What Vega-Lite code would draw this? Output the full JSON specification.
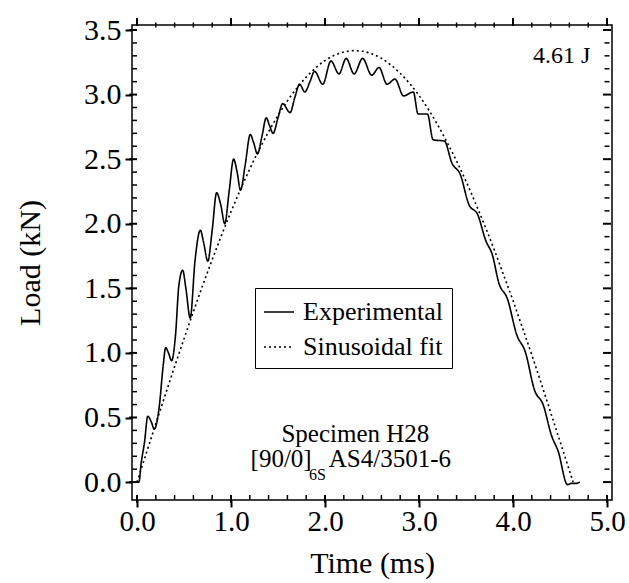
{
  "$schema": "https://vega.github.io/schema/vega-lite/v6.json",
  "width": 480,
  "height": 475,
  "autosize": {"type": "none"},
  "padding": {"left": 132, "top": 25, "right": 17, "bottom": 83},
  "background": "white",
  "config": {
    "font": "Liberation Serif",
    "view": {"stroke": "black", "strokeWidth": 1.5},
    "axis": {"grid": false, "labelColor": "black", "titleColor": "black", "labelFont": "Liberation Serif", "titleFont": "Liberation Serif", "titleFontWeight": "normal", "labelFlush": false, "labelOverlap": false},
    "tick": {"opacity": 1, "color": "black"},
    "bar": {"opacity": 1, "color": "black"}
  },
  "datasets": {
    "xmajor": [{"v": 0}, {"v": 1}, {"v": 2}, {"v": 3}, {"v": 4}, {"v": 5}],
    "xminor": [{"v": 0.2}, {"v": 0.4}, {"v": 0.6}, {"v": 0.8}, {"v": 1.2}, {"v": 1.4}, {"v": 1.6}, {"v": 1.8}, {"v": 2.2}, {"v": 2.4}, {"v": 2.6}, {"v": 2.8}, {"v": 3.2}, {"v": 3.4}, {"v": 3.6}, {"v": 3.8}, {"v": 4.2}, {"v": 4.4}, {"v": 4.6}, {"v": 4.8}],
    "ymajor": [{"v": 0}, {"v": 0.5}, {"v": 1}, {"v": 1.5}, {"v": 2}, {"v": 2.5}, {"v": 3}, {"v": 3.5}],
    "yminor": [{"v": 0.1}, {"v": 0.2}, {"v": 0.3}, {"v": 0.4}, {"v": 0.6}, {"v": 0.7}, {"v": 0.8}, {"v": 0.9}, {"v": 1.1}, {"v": 1.2}, {"v": 1.3}, {"v": 1.4}, {"v": 1.6}, {"v": 1.7}, {"v": 1.8}, {"v": 1.9}, {"v": 2.1}, {"v": 2.2}, {"v": 2.3}, {"v": 2.4}, {"v": 2.6}, {"v": 2.7}, {"v": 2.8}, {"v": 2.9}, {"v": 3.1}, {"v": 3.2}, {"v": 3.3}, {"v": 3.4}]
  },
  "resolve": {"axis": {"x": "independent", "y": "independent"}, "scale": {"x": "shared", "y": "shared"}},
  "layer": [
    {
      "data": {"values": [
        {"series": "Experimental", "t": 0.00, "L": 0.00},
        {"series": "Experimental", "t": 0.02, "L": 0.00},
        {"series": "Experimental", "t": 0.045, "L": 0.15},
        {"series": "Experimental", "t": 0.08, "L": 0.31},
        {"series": "Experimental", "t": 0.115, "L": 0.51},
        {"series": "Experimental", "t": 0.15, "L": 0.47},
        {"series": "Experimental", "t": 0.184, "L": 0.41},
        {"series": "Experimental", "t": 0.236, "L": 0.58},
        {"series": "Experimental", "t": 0.277, "L": 0.89},
        {"series": "Experimental", "t": 0.305, "L": 1.04},
        {"series": "Experimental", "t": 0.335, "L": 1.00},
        {"series": "Experimental", "t": 0.368, "L": 0.94},
        {"series": "Experimental", "t": 0.41, "L": 1.14},
        {"series": "Experimental", "t": 0.445, "L": 1.52},
        {"series": "Experimental", "t": 0.486, "L": 1.64},
        {"series": "Experimental", "t": 0.52, "L": 1.50},
        {"series": "Experimental", "t": 0.566, "L": 1.27},
        {"series": "Experimental", "t": 0.618, "L": 1.72},
        {"series": "Experimental", "t": 0.674, "L": 1.95},
        {"series": "Experimental", "t": 0.71, "L": 1.85},
        {"series": "Experimental", "t": 0.753, "L": 1.71},
        {"series": "Experimental", "t": 0.80, "L": 1.95},
        {"series": "Experimental", "t": 0.847, "L": 2.24},
        {"series": "Experimental", "t": 0.89, "L": 2.15},
        {"series": "Experimental", "t": 0.934, "L": 2.00},
        {"series": "Experimental", "t": 0.98, "L": 2.25},
        {"series": "Experimental", "t": 1.028, "L": 2.50},
        {"series": "Experimental", "t": 1.065, "L": 2.40},
        {"series": "Experimental", "t": 1.101, "L": 2.26},
        {"series": "Experimental", "t": 1.15, "L": 2.45},
        {"series": "Experimental", "t": 1.205, "L": 2.69},
        {"series": "Experimental", "t": 1.24, "L": 2.63},
        {"series": "Experimental", "t": 1.281, "L": 2.54},
        {"series": "Experimental", "t": 1.33, "L": 2.68},
        {"series": "Experimental", "t": 1.375, "L": 2.82},
        {"series": "Experimental", "t": 1.41, "L": 2.76},
        {"series": "Experimental", "t": 1.448, "L": 2.70},
        {"series": "Experimental", "t": 1.50, "L": 2.82},
        {"series": "Experimental", "t": 1.55, "L": 2.93},
        {"series": "Experimental", "t": 1.628, "L": 2.86},
        {"series": "Experimental", "t": 1.68, "L": 2.98},
        {"series": "Experimental", "t": 1.73, "L": 3.08},
        {"series": "Experimental", "t": 1.785, "L": 3.02},
        {"series": "Experimental", "t": 1.84, "L": 3.10},
        {"series": "Experimental", "t": 1.889, "L": 3.18},
        {"series": "Experimental", "t": 1.976, "L": 3.08},
        {"series": "Experimental", "t": 2.063, "L": 3.26},
        {"series": "Experimental", "t": 2.149, "L": 3.16},
        {"series": "Experimental", "t": 2.225, "L": 3.28},
        {"series": "Experimental", "t": 2.31, "L": 3.16},
        {"series": "Experimental", "t": 2.40, "L": 3.28},
        {"series": "Experimental", "t": 2.497, "L": 3.15},
        {"series": "Experimental", "t": 2.575, "L": 3.21},
        {"series": "Experimental", "t": 2.66, "L": 3.08},
        {"series": "Experimental", "t": 2.745, "L": 3.12},
        {"series": "Experimental", "t": 2.835, "L": 2.99},
        {"series": "Experimental", "t": 2.94, "L": 3.02},
        {"series": "Experimental", "t": 2.99, "L": 2.85},
        {"series": "Experimental", "t": 3.09, "L": 2.85},
        {"series": "Experimental", "t": 3.15, "L": 2.65},
        {"series": "Experimental", "t": 3.27, "L": 2.64},
        {"series": "Experimental", "t": 3.35, "L": 2.47},
        {"series": "Experimental", "t": 3.44, "L": 2.38},
        {"series": "Experimental", "t": 3.53, "L": 2.15},
        {"series": "Experimental", "t": 3.625, "L": 2.07},
        {"series": "Experimental", "t": 3.71, "L": 1.87},
        {"series": "Experimental", "t": 3.78, "L": 1.76},
        {"series": "Experimental", "t": 3.85, "L": 1.54},
        {"series": "Experimental", "t": 3.94, "L": 1.42},
        {"series": "Experimental", "t": 4.04, "L": 1.14},
        {"series": "Experimental", "t": 4.13, "L": 1.01},
        {"series": "Experimental", "t": 4.23, "L": 0.71},
        {"series": "Experimental", "t": 4.32, "L": 0.60},
        {"series": "Experimental", "t": 4.41, "L": 0.36},
        {"series": "Experimental", "t": 4.48, "L": 0.24},
        {"series": "Experimental", "t": 4.58, "L": -0.02},
        {"series": "Experimental", "t": 4.62, "L": -0.01},
        {"series": "Experimental", "t": 4.67, "L": -0.01},
        {"series": "Experimental", "t": 4.71, "L": 0.00},
        {"series": "Sinusoidal fit", "t": 0.0, "L": 0.0},
        {"series": "Sinusoidal fit", "t": 0.1, "L": 0.226},
        {"series": "Sinusoidal fit", "t": 0.2, "L": 0.451},
        {"series": "Sinusoidal fit", "t": 0.3, "L": 0.674},
        {"series": "Sinusoidal fit", "t": 0.4, "L": 0.894},
        {"series": "Sinusoidal fit", "t": 0.5, "L": 1.109},
        {"series": "Sinusoidal fit", "t": 0.6, "L": 1.320},
        {"series": "Sinusoidal fit", "t": 0.7, "L": 1.525},
        {"series": "Sinusoidal fit", "t": 0.8, "L": 1.722},
        {"series": "Sinusoidal fit", "t": 0.9, "L": 1.912},
        {"series": "Sinusoidal fit", "t": 1.0, "L": 2.093},
        {"series": "Sinusoidal fit", "t": 1.1, "L": 2.264},
        {"series": "Sinusoidal fit", "t": 1.2, "L": 2.425},
        {"series": "Sinusoidal fit", "t": 1.3, "L": 2.574},
        {"series": "Sinusoidal fit", "t": 1.4, "L": 2.712},
        {"series": "Sinusoidal fit", "t": 1.5, "L": 2.838},
        {"series": "Sinusoidal fit", "t": 1.6, "L": 2.951},
        {"series": "Sinusoidal fit", "t": 1.7, "L": 3.050},
        {"series": "Sinusoidal fit", "t": 1.8, "L": 3.135},
        {"series": "Sinusoidal fit", "t": 1.9, "L": 3.206},
        {"series": "Sinusoidal fit", "t": 2.0, "L": 3.263},
        {"series": "Sinusoidal fit", "t": 2.1, "L": 3.304},
        {"series": "Sinusoidal fit", "t": 2.2, "L": 3.329},
        {"series": "Sinusoidal fit", "t": 2.3, "L": 3.340},
        {"series": "Sinusoidal fit", "t": 2.4, "L": 3.335},
        {"series": "Sinusoidal fit", "t": 2.5, "L": 3.315},
        {"series": "Sinusoidal fit", "t": 2.6, "L": 3.281},
        {"series": "Sinusoidal fit", "t": 2.7, "L": 3.229},
        {"series": "Sinusoidal fit", "t": 2.8, "L": 3.165},
        {"series": "Sinusoidal fit", "t": 2.9, "L": 3.086},
        {"series": "Sinusoidal fit", "t": 3.0, "L": 2.993},
        {"series": "Sinusoidal fit", "t": 3.1, "L": 2.885},
        {"series": "Sinusoidal fit", "t": 3.2, "L": 2.763},
        {"series": "Sinusoidal fit", "t": 3.3, "L": 2.629},
        {"series": "Sinusoidal fit", "t": 3.4, "L": 2.485},
        {"series": "Sinusoidal fit", "t": 3.5, "L": 2.329},
        {"series": "Sinusoidal fit", "t": 3.6, "L": 2.161},
        {"series": "Sinusoidal fit", "t": 3.7, "L": 1.985},
        {"series": "Sinusoidal fit", "t": 3.8, "L": 1.800},
        {"series": "Sinusoidal fit", "t": 3.9, "L": 1.603},
        {"series": "Sinusoidal fit", "t": 4.0, "L": 1.405},
        {"series": "Sinusoidal fit", "t": 4.1, "L": 1.196},
        {"series": "Sinusoidal fit", "t": 4.2, "L": 0.985},
        {"series": "Sinusoidal fit", "t": 4.3, "L": 0.765},
        {"series": "Sinusoidal fit", "t": 4.4, "L": 0.541},
        {"series": "Sinusoidal fit", "t": 4.5, "L": 0.316},
        {"series": "Sinusoidal fit", "t": 4.6, "L": 0.090},
        {"series": "Sinusoidal fit", "t": 4.64, "L": 0.0}
      ]},
      "mark": {"type": "line", "interpolate": "monotone", "strokeWidth": 1.6, "color": "black"},
      "encoding": {
        "x": {"field": "t", "type": "quantitative", "scale": {"domain": [0, 5], "nice": false, "zero": false},
          "axis": {"orient": "bottom", "values": [0, 1, 2, 3, 4, 5], "format": ".1f", "domain": false, "ticks": true, "tickColor": "black", "tickWidth": 2, "tickSize": 7, "labelFontSize": 29, "labelPadding": 0, "title": "Time (ms)", "titleFontSize": 30, "titlePadding": 12}},
        "y": {"field": "L", "type": "quantitative", "scale": {"domain": [-0.1, 3.5], "nice": false, "zero": false},
          "axis": {"orient": "left", "values": [0, 0.5, 1, 1.5, 2, 2.5, 3, 3.5], "format": ".1f", "domain": false, "ticks": true, "tickColor": "black", "tickWidth": 2, "tickSize": 7, "labelFontSize": 30, "labelPadding": 4, "title": "Load (kN)", "titleFontSize": 30, "titlePadding": 38}},
        "strokeDash": {"field": "series", "type": "nominal",
          "scale": {"domain": ["Experimental", "Sinusoidal fit"], "range": [[1, 0], [2, 3]]},
          "legend": {"title": null, "orient": "none", "legendX": 123, "legendY": 263, "strokeColor": "black", "fillColor": "white", "padding": 8, "rowPadding": 6, "labelOffset": 8, "symbolType": "stroke", "symbolSize": 900, "symbolStrokeWidth": 1.6, "symbolStrokeColor": "black", "labelFont": "Liberation Serif", "labelFontSize": 26, "labelColor": "black", "labelLimit": 300}}
      }
    },
    {
      "data": {"name": "xmajor"},
      "mark": {"type": "bar", "orient": "vertical", "size": 2, "color": "black", "opacity": 1},
      "encoding": {
        "x": {"field": "v", "type": "quantitative", "scale": {"domain": [0, 5], "nice": false, "zero": false}, "axis": null},
        "y": {"datum": -0.1, "type": "quantitative", "scale": {"domain": [-0.1, 3.5], "nice": false, "zero": false}, "axis": null},
        "y2": {"datum": -0.16}
      }
    },
    {
      "data": {"name": "xmajor"},
      "mark": {"type": "tick", "orient": "vertical", "size": 8, "thickness": 2, "color": "black", "opacity": 1, "yOffset": -8},
      "encoding": {
        "x": {"field": "v", "type": "quantitative", "scale": {"domain": [0, 5], "nice": false, "zero": false}, "axis": null},
        "y": {"datum": 3.5, "type": "quantitative", "scale": {"domain": [-0.1, 3.5], "nice": false, "zero": false}, "axis": null}
      }
    },
    {
      "data": {"name": "xminor"},
      "mark": {"type": "bar", "orient": "vertical", "size": 1.5, "color": "black", "opacity": 1},
      "encoding": {
        "x": {"field": "v", "type": "quantitative", "scale": {"domain": [0, 5], "nice": false, "zero": false}, "axis": null},
        "y": {"datum": -0.1, "type": "quantitative", "scale": {"domain": [-0.1, 3.5], "nice": false, "zero": false}, "axis": null},
        "y2": {"datum": -0.138}
      }
    },
    {
      "data": {"name": "xminor"},
      "mark": {"type": "tick", "orient": "vertical", "size": 5, "thickness": 1.5, "color": "black", "opacity": 1, "yOffset": -5},
      "encoding": {
        "x": {"field": "v", "type": "quantitative", "scale": {"domain": [0, 5], "nice": false, "zero": false}, "axis": null},
        "y": {"datum": 3.5, "type": "quantitative", "scale": {"domain": [-0.1, 3.5], "nice": false, "zero": false}, "axis": null}
      }
    },
    {
      "data": {"name": "ymajor"},
      "mark": {"type": "bar", "orient": "horizontal", "size": 2, "color": "black", "opacity": 1},
      "encoding": {
        "y": {"field": "v", "type": "quantitative", "scale": {"domain": [-0.1, 3.5], "nice": false, "zero": false}, "axis": null},
        "x": {"datum": -0.083, "type": "quantitative", "scale": {"domain": [0, 5], "nice": false, "zero": false}, "axis": null},
        "x2": {"datum": 0}
      }
    },
    {
      "data": {"name": "ymajor"},
      "mark": {"type": "tick", "orient": "horizontal", "size": 8, "thickness": 2, "color": "black", "opacity": 1},
      "encoding": {
        "y": {"field": "v", "type": "quantitative", "scale": {"domain": [-0.1, 3.5], "nice": false, "zero": false}, "axis": null},
        "x": {"datum": 5, "type": "quantitative", "scale": {"domain": [0, 5], "nice": false, "zero": false}, "axis": null}
      }
    },
    {
      "data": {"name": "yminor"},
      "mark": {"type": "bar", "orient": "horizontal", "size": 1.5, "color": "black", "opacity": 1},
      "encoding": {
        "y": {"field": "v", "type": "quantitative", "scale": {"domain": [-0.1, 3.5], "nice": false, "zero": false}, "axis": null},
        "x": {"datum": -0.052, "type": "quantitative", "scale": {"domain": [0, 5], "nice": false, "zero": false}, "axis": null},
        "x2": {"datum": 0}
      }
    },
    {
      "data": {"name": "yminor"},
      "mark": {"type": "tick", "orient": "horizontal", "size": 5, "thickness": 1.5, "color": "black", "opacity": 1},
      "encoding": {
        "y": {"field": "v", "type": "quantitative", "scale": {"domain": [-0.1, 3.5], "nice": false, "zero": false}, "axis": null},
        "x": {"datum": 5, "type": "quantitative", "scale": {"domain": [0, 5], "nice": false, "zero": false}, "axis": null}
      }
    },
    {
      "data": {"values": [{"t": 4.823, "L": 3.295, "label": "4.61 J"}]},
      "mark": {"type": "text", "align": "right", "baseline": "middle", "fontSize": 24, "color": "black"},
      "encoding": {
        "x": {"field": "t", "type": "quantitative", "scale": {"domain": [0, 5], "nice": false, "zero": false}, "axis": null},
        "y": {"field": "L", "type": "quantitative", "scale": {"domain": [-0.1, 3.5], "nice": false, "zero": false}, "axis": null},
        "text": {"field": "label"}
      }
    },
    {
      "data": {"values": [{"t": 2.323, "L": 0.371, "label": "Specimen H28"}]},
      "mark": {"type": "text", "align": "center", "baseline": "middle", "fontSize": 25, "color": "black"},
      "encoding": {
        "x": {"field": "t", "type": "quantitative", "scale": {"domain": [0, 5], "nice": false, "zero": false}, "axis": null},
        "y": {"field": "L", "type": "quantitative", "scale": {"domain": [-0.1, 3.5], "nice": false, "zero": false}, "axis": null},
        "text": {"field": "label"}
      }
    },
    {
      "data": {"values": [{"t": 1.208, "L": 0.182, "label": "[90/0]"}]},
      "mark": {"type": "text", "align": "left", "baseline": "middle", "fontSize": 25, "color": "black"},
      "encoding": {
        "x": {"field": "t", "type": "quantitative", "scale": {"domain": [0, 5], "nice": false, "zero": false}, "axis": null},
        "y": {"field": "L", "type": "quantitative", "scale": {"domain": [-0.1, 3.5], "nice": false, "zero": false}, "axis": null},
        "text": {"field": "label"}
      }
    },
    {
      "data": {"values": [{"t": 1.83, "L": 0.053, "label": "6S"}]},
      "mark": {"type": "text", "align": "left", "baseline": "middle", "fontSize": 16, "color": "black"},
      "encoding": {
        "x": {"field": "t", "type": "quantitative", "scale": {"domain": [0, 5], "nice": false, "zero": false}, "axis": null},
        "y": {"field": "L", "type": "quantitative", "scale": {"domain": [-0.1, 3.5], "nice": false, "zero": false}, "axis": null},
        "text": {"field": "label"}
      }
    },
    {
      "data": {"values": [{"t": 3.34, "L": 0.182, "label": "AS4/3501-6"}]},
      "mark": {"type": "text", "align": "right", "baseline": "middle", "fontSize": 25, "color": "black"},
      "encoding": {
        "x": {"field": "t", "type": "quantitative", "scale": {"domain": [0, 5], "nice": false, "zero": false}, "axis": null},
        "y": {"field": "L", "type": "quantitative", "scale": {"domain": [-0.1, 3.5], "nice": false, "zero": false}, "axis": null},
        "text": {"field": "label"}
      }
    }
  ]
}
